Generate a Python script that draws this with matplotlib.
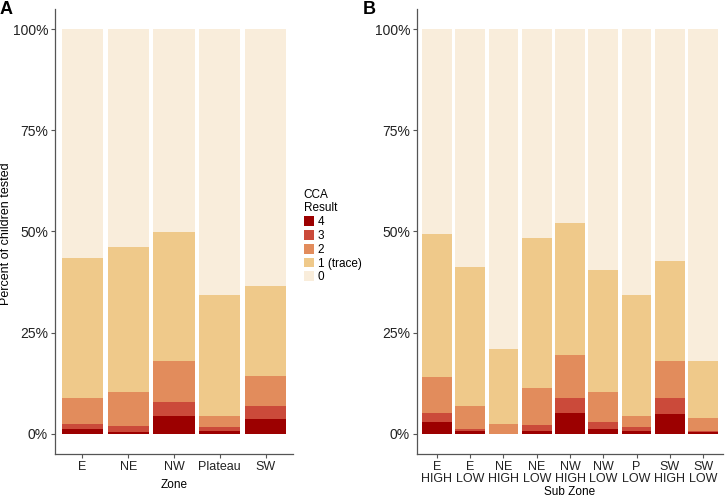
import matplotlib
matplotlib.use("Agg")
import matplotlib.pyplot as plt
from matplotlib.patches import Patch
import numpy as np

plt.rcParams['font.family'] = ['Liberation Sans', 'DejaVu Sans']

# percent of children in each CCA result level
zones = ["E", "NE", "NW", "Plateau", "SW"]
zone_r4 = [1.2, 0.5, 4.3, 0.6, 3.7]
zone_r3 = [1.2, 1.5, 3.5, 1.0, 3.2]
zone_r2 = [6.5, 8.4, 10.1, 2.9, 7.5]
zone_r1 = [34.5, 35.8, 32.1, 29.8, 22.1]
zone_r0 = [56.6, 53.8, 50.0, 65.7, 63.5]

subzones = ["E\nHIGH", "E\nLOW", "NE\nHIGH", "NE\nLOW", "NW\nHIGH",
            "NW\nLOW", "P\nLOW", "SW\nHIGH", "SW\nLOW"]
sub_r4 = [2.8, 0.6, 0.0, 0.6, 5.1, 1.2, 0.6, 4.8, 0.4]
sub_r3 = [2.3, 0.6, 0.0, 1.6, 3.7, 1.7, 1.0, 4.1, 0.4]
sub_r2 = [8.9, 5.7, 2.5, 9.0, 10.6, 7.5, 2.9, 9.1, 3.2]
sub_r1 = [35.3, 34.3, 18.5, 37.2, 32.6, 30.2, 29.8, 24.8, 14.0]
sub_r0 = [50.7, 58.8, 79.0, 51.6, 48.0, 59.4, 65.7, 57.2, 82.0]

levels = ["4", "3", "2", "1 (trace)", "0"]
colors = ["#9c0000", "#cb4a3a", "#e28c5c", "#efc98a", "#f9eddb"]

W, H = 725, 498
fig = plt.figure(figsize=(W / 100, H / 100), dpi=100)


def px_axes(x0, x1, y0, y1):
    return fig.add_axes([x0 / W, 1 - y1 / H, (x1 - x0) / W, (y1 - y0) / H])


def stacked(ax, cats, series, xlabel):
    x = np.arange(1, len(cats) + 1)
    bottom = np.zeros(len(cats))
    for vals, c in zip(series, colors):
        v = np.array(vals) / 100
        ax.bar(x, v, 0.9, bottom=bottom, color=c, linewidth=0)
        bottom += v
    ax.set_xlim(0.4, len(cats) + 0.6)
    ax.set_ylim(-0.05, 1.05)
    ax.set_yticks([0, 0.25, 0.5, 0.75, 1.0])
    ax.set_yticklabels(["0%", "25%", "50%", "75%", "100%"])
    ax.set_xticks(x)
    ax.set_xticklabels(cats, linespacing=1.0)
    ax.set_xlabel(xlabel, fontsize=8.5, labelpad=4)
    for s in ["top", "right"]:
        ax.spines[s].set_visible(False)
    for s in ["left", "bottom"]:
        ax.spines[s].set_color("#555555")
        ax.spines[s].set_linewidth(0.9)
    ax.tick_params(colors="#555555", labelcolor="#222222",
                   length=3, width=0.8, pad=2)
    ax.tick_params(axis="y", labelsize=10)
    ax.tick_params(axis="x", labelsize=9)


axA = px_axes(55, 293, 9, 454)
stacked(axA, zones, [zone_r4, zone_r3, zone_r2, zone_r1, zone_r0], "Zone")
axA.set_ylabel("Percent of children tested", fontsize=9)
axA.yaxis.set_label_coords((12 - 55) / 238, 0.495)

axB = px_axes(417, 723, 9, 454)
stacked(axB, subzones, [sub_r4, sub_r3, sub_r2, sub_r1, sub_r0], "Sub Zone")
axB.xaxis.labelpad = 1

fig.text(0 / W, 1 - 10 / H, "A", fontsize=13, fontweight="bold", va="center")
fig.text(363 / W, 1 - 10 / H, "B", fontsize=13, fontweight="bold", va="center")

handles = [Patch(facecolor=c, edgecolor="none") for c in colors]
leg = fig.legend(handles, levels, title="CCA\nResult", loc="upper left",
                 bbox_to_anchor=(293 / W, 1 - 178 / H), frameon=False,
                 fontsize=8.5, title_fontsize=8.5, handlelength=0.9,
                 handleheight=0.9, handletextpad=0.3, labelspacing=0.15)
leg._legend_box.align = "left"

fig.savefig("out.png", dpi=100)
